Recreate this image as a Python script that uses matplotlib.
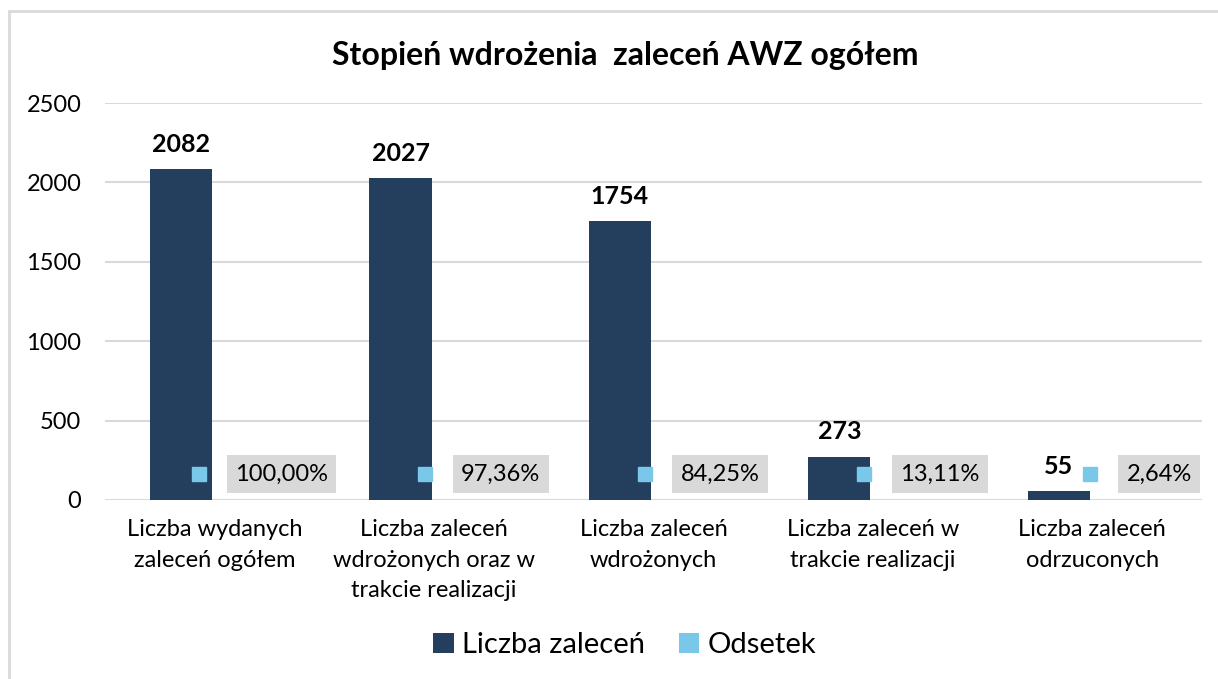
import numpy as np
import matplotlib
matplotlib.use('Agg')
import matplotlib.pyplot as plt
from matplotlib.patches import Rectangle
from matplotlib.offsetbox import AnnotationBbox, HPacker, TextArea, DrawingArea, PaddedBox

plt.rcParams['font.family'] = ['Lato', 'DejaVu Sans']

# dane
kategorie = ['Liczba wydanych\nzaleceń ogółem',
             'Liczba zaleceń\nwdrożonych oraz w\ntrakcie realizacji',
             'Liczba zaleceń\nwdrożonych',
             'Liczba zaleceń w\ntrakcie realizacji',
             'Liczba zaleceń\nodrzuconych']
liczba = [2082, 2027, 1754, 273, 55]
odsetek = [100.00, 97.36, 84.25, 13.11, 2.64]
tytul = 'Stopień wdrożenia  zaleceń AWZ ogółem'

c_dark = '#243F5D'
c_light = '#7AC8E9'
c_grid = '#D9D9D9'

fig = plt.figure(figsize=(12.18, 6.79), dpi=100)
ax = fig.add_axes([105/1218, 1-500/679, (1202-105)/1218, (500-103)/679])

x = np.arange(len(kategorie))
w = 0.283
ax.bar(x - 0.153, liczba, w, color=c_dark, zorder=3, label='Liczba zaleceń')
# odsetek jako ulamek (100% = 1) - w skali osi prawie niewidoczny, jak w Excelu
ax.bar(x + 0.153, np.array(odsetek) / 100, w, color=c_light, zorder=3, label='Odsetek')

ax.set_xlim(-0.5, len(kategorie) - 0.5)
ax.set_ylim(0, 2500)
ax.set_yticks(np.arange(0, 2501, 500))
ax.grid(axis='y', color=c_grid, lw=1.5, zorder=0)
ax.set_xticks(x)
ax.set_xticklabels(kategorie, fontsize=17, linespacing=1.55)
ax.tick_params(axis='both', length=0, labelsize=17, colors='#000000')
ax.tick_params(axis='x', pad=14)
ax.tick_params(axis='y', pad=17)
for s in ax.spines.values():
    s.set_visible(False)

# etykiety liczby
for xi, v in zip(x, liczba):
    ax.annotate(str(v), (xi - 0.153, v), xytext=(0, 18), textcoords='offset points',
                ha='center', va='center', fontsize=18, fontweight='bold')

# etykiety odsetka z kluczem legendy
for xi, p in zip(x, odsetek):
    sq = DrawingArea(10, 10)
    sq.add_artist(Rectangle((0, 0), 10, 10, color=c_light))
    txt = TextArea(('%.2f%%' % p).replace('.', ','), textprops=dict(fontsize=17))
    box = PaddedBox(txt, pad=6, draw_frame=True,
                    patch_attrs=dict(facecolor='#D9D9D9', edgecolor='none', boxstyle='square,pad=0'))
    pack = HPacker(children=[sq, box], sep=15, align='center')
    ab = AnnotationBbox(pack, (xi + 0.225, 164), frameon=False, box_alignment=(0.5, 0.5))
    ax.add_artist(ab)

fig.text(0.513, 1-55/679, tytul, ha='center', va='center', fontsize=23, fontweight='bold')

fig.legend(loc='center', bbox_to_anchor=(0.513, 1-645/679), ncol=2, frameon=False,
           fontsize=21, handlelength=0.7, handleheight=0.7, handletextpad=0.3, columnspacing=1.15)

# ramka wykresu
fig.patches.append(Rectangle((9/1218, -0.05), 1.2, 1 - 11/679 + 0.05, transform=fig.transFigure,
                             fill=False, edgecolor='#D9D9D9', lw=2))

fig.savefig('out.png', dpi=100)
